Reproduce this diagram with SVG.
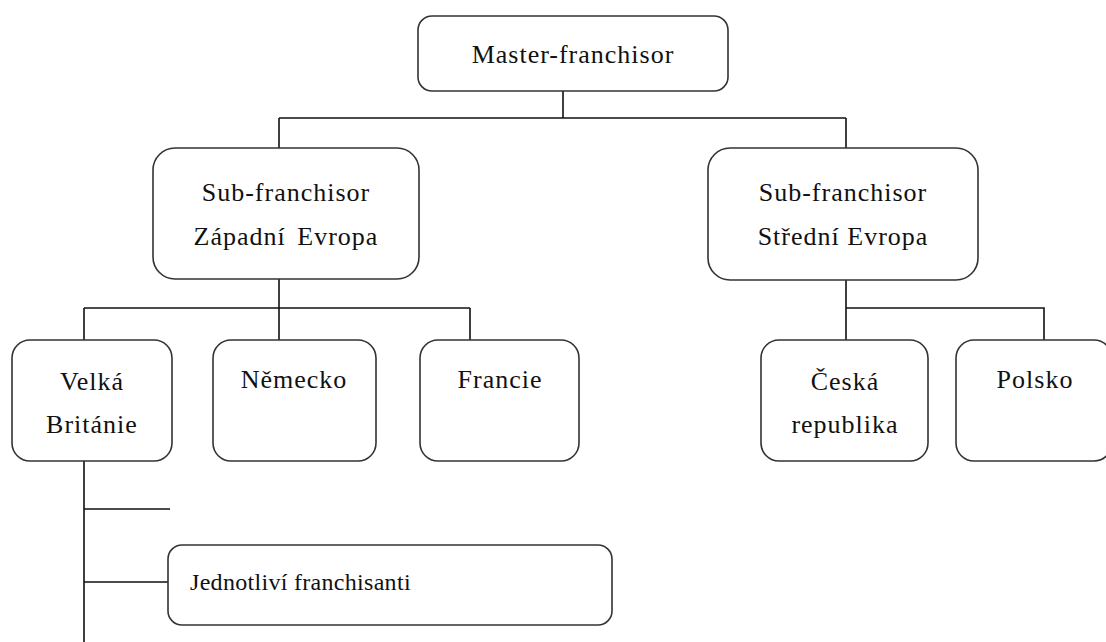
<svg xmlns="http://www.w3.org/2000/svg" width="1106" height="642" viewBox="0 0 1106 642">
<style>
.box{fill:#fff;stroke:#333;stroke-width:1.6}
.t{font-family:"Liberation Serif","Times New Roman",serif;font-size:26px;fill:#111;text-anchor:middle;letter-spacing:1px}
.s{font-size:24px;text-anchor:start;letter-spacing:0.3px}
.c{fill:none;stroke:#111;stroke-width:1.6}
</style>
<rect width="1106" height="642" fill="#fff"/>
<g id="connectors" class="c">
<path d="M563 91V118M279 118H846M279 118V148M846 118V148"/>
<path d="M279 279V340M84 308H470M84 308V340M470 308V340"/>
<path d="M846 280V340M846 308H1044V340"/>
<path d="M84 461V642M84 509H170M84 582H168"/>
</g>
<g id="master"><rect class="box" x="418" y="16" width="310" height="75" rx="14"/><text class="t" x="573" y="63">Master-franchisor</text></g>
<g id="sub-west"><rect class="box" x="153" y="148" width="266" height="131" rx="22"/><text class="t" x="286" y="201">Sub-franchisor</text><text class="t" x="286" y="245" word-spacing="4">Západní Evropa</text></g>
<g id="sub-central"><rect class="box" x="708" y="148" width="270" height="132" rx="22"/><text class="t" x="843" y="201">Sub-franchisor</text><text class="t" x="843" y="245">Střední Evropa</text></g>
<g id="uk"><rect class="box" x="12" y="340" width="160" height="121" rx="18"/><text class="t" x="92" y="390">Velká</text><text class="t" x="92" y="433">Británie</text></g>
<g id="de"><rect class="box" x="213" y="340" width="163" height="121" rx="18"/><text class="t" x="294" y="388">Německo</text></g>
<g id="fr"><rect class="box" x="420" y="340" width="159" height="121" rx="18"/><text class="t" x="500" y="388">Francie</text></g>
<g id="cz"><rect class="box" x="761" y="340" width="167" height="121" rx="18"/><text class="t" x="845" y="390">Česká</text><text class="t" x="845" y="433">republika</text></g>
<g id="pl"><rect class="box" x="956" y="340" width="156" height="121" rx="18"/><text class="t" x="1035" y="388">Polsko</text></g>
<g id="franchisees"><rect class="box" x="168" y="545" width="444" height="80" rx="14"/><text class="t s" x="190" y="590">Jednotliví franchisanti</text></g>
</svg>
